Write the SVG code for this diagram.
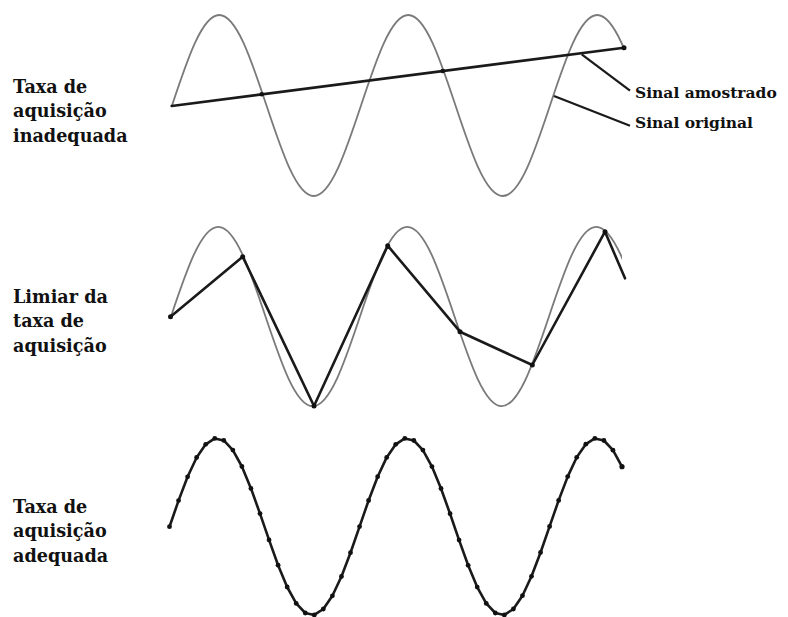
<svg xmlns="http://www.w3.org/2000/svg" width="788" height="617" viewBox="0 0 788 617">
<style>
.lbl{font-family:"DejaVu Serif","Liberation Serif",serif;font-weight:bold;font-size:17.6px;fill:#111}
.sm{font-family:"DejaVu Serif","Liberation Serif",serif;font-weight:bold;font-size:15.5px;fill:#111}
.orig{fill:none;stroke:#7a7a7a;stroke-width:1.8}
.samp{fill:none;stroke:#1a1a1a;stroke-width:2.6;stroke-linejoin:round;stroke-linecap:round}
.lead{stroke:#1a1a1a;stroke-width:2.2;fill:none}
.dot{fill:#111}
</style>
<defs>
<path id="wave" d="M0,0 c15.41,-46.36 30.15,-90.5 47.25,-90.5 c17.1,0 31.84,44.14 47.25,90.5 c15.41,46.36 30.15,90.5 47.25,90.5 c17.1,0 31.84,-44.14 47.25,-90.5 c15.41,-46.36 30.15,-90.5 47.25,-90.5 c17.1,0 31.84,44.14 47.25,90.5 c15.41,46.36 30.15,90.5 47.25,90.5 c17.1,0 31.84,-44.14 47.25,-90.5 c15.41,-46.36 30.15,-90.5 47.25,-90.5 c17.1,0 31.84,44.14 47.25,90.5"/>
<clipPath id="c1"><rect x="150" y="0" width="474" height="210"/></clipPath>
<clipPath id="c2"><rect x="150" y="210" width="472" height="210"/></clipPath>
</defs>
<rect width="788" height="617" fill="#fff"/>

<g id="labels-top">
<text class="lbl" x="13" y="93">Taxa de</text>
<text class="lbl" x="13" y="117">aquisição</text>
<text class="lbl" x="13" y="142">inadequada</text>
</g>
<g id="labels-mid">
<text class="lbl" x="13" y="303">Limiar da</text>
<text class="lbl" x="13" y="327">taxa de</text>
<text class="lbl" x="13" y="352">aquisição</text>
</g>
<g id="labels-bot">
<text class="lbl" x="13" y="513">Taxa de</text>
<text class="lbl" x="13" y="537">aquisição</text>
<text class="lbl" x="13" y="562">adequada</text>
</g>

<g id="wave-top">
<g clip-path="url(#c1)"><use href="#wave" class="orig" transform="translate(172,105.5)"/></g>
<polyline class="samp" points="171.7,106 624,47.7"/>
<circle class="dot" cx="261.7" cy="94.3" r="2.3"/>
<circle class="dot" cx="442.7" cy="71" r="2.3"/>
<circle class="dot" cx="624" cy="47.7" r="2.5"/>
</g>

<g id="wave-mid">
<g clip-path="url(#c2)"><use href="#wave" class="orig" transform="translate(171,316.5) scale(1,0.99)"/></g>
<polyline class="samp" points="170.5,316.7 242.7,256.7 314,406 387.7,245.7 460,331.7 532.3,365 605,231.7 625,278.3"/>
<circle class="dot" cx="170.5" cy="316.7" r="2.5"/>
<circle class="dot" cx="242.7" cy="256.7" r="2.5"/>
<circle class="dot" cx="314" cy="406" r="2.5"/>
<circle class="dot" cx="387.7" cy="245.7" r="2.5"/>
<circle class="dot" cx="460" cy="331.7" r="2.5"/>
<circle class="dot" cx="532.3" cy="365" r="2.5"/>
<circle class="dot" cx="605" cy="231.7" r="2.5"/>
</g>

<g id="wave-bot">
<polyline class="samp" points="169.5,526.7 178.55,500.6 187.6,476.8 196.65,457.5 205.7,444.3 214.75,438.4 223.8,440.4 232.85,450.1 241.9,466.5 250.95,488.4 260,513.6 269.05,539.9 278.1,565.2 287.15,587 296.2,603.4 305.25,613 314.3,614.9 323.35,609 332.4,595.8 341.45,576.5 350.5,552.7 359.55,526.6 368.6,500.5 377.65,476.7 386.7,457.4 395.75,444.3 404.8,438.4 413.85,440.5 422.9,450.1 431.95,466.6 441,488.5 450.05,513.7 459.1,540.1 468.15,565.3 477.2,587.1 486.25,603.4 495.3,613 504.35,614.9 513.4,609 522.45,595.7 531.5,576.3 540.55,552.5 549.6,526.4 558.65,500.4 567.7,476.6 576.75,457.3 585.8,444.2 594.85,438.4 603.9,440.5 612.95,450.2 622,466.7"/>
<g class="dot">
<circle cx="169.5" cy="526.7" r="2.4"/><circle cx="178.55" cy="500.6" r="2.4"/><circle cx="187.6" cy="476.8" r="2.4"/><circle cx="196.65" cy="457.5" r="2.4"/><circle cx="205.7" cy="444.3" r="2.4"/><circle cx="214.75" cy="438.4" r="2.4"/><circle cx="223.8" cy="440.4" r="2.4"/><circle cx="232.85" cy="450.1" r="2.4"/><circle cx="241.9" cy="466.5" r="2.4"/><circle cx="250.95" cy="488.4" r="2.4"/><circle cx="260" cy="513.6" r="2.4"/><circle cx="269.05" cy="539.9" r="2.4"/><circle cx="278.1" cy="565.2" r="2.4"/><circle cx="287.15" cy="587" r="2.4"/><circle cx="296.2" cy="603.4" r="2.4"/><circle cx="305.25" cy="613" r="2.4"/><circle cx="314.3" cy="614.9" r="2.4"/><circle cx="323.35" cy="609" r="2.4"/><circle cx="332.4" cy="595.8" r="2.4"/><circle cx="341.45" cy="576.5" r="2.4"/><circle cx="350.5" cy="552.7" r="2.4"/><circle cx="359.55" cy="526.6" r="2.4"/><circle cx="368.6" cy="500.5" r="2.4"/><circle cx="377.65" cy="476.7" r="2.4"/><circle cx="386.7" cy="457.4" r="2.4"/><circle cx="395.75" cy="444.3" r="2.4"/><circle cx="404.8" cy="438.4" r="2.4"/><circle cx="413.85" cy="440.5" r="2.4"/><circle cx="422.9" cy="450.1" r="2.4"/><circle cx="431.95" cy="466.6" r="2.4"/><circle cx="441" cy="488.5" r="2.4"/><circle cx="450.05" cy="513.7" r="2.4"/><circle cx="459.1" cy="540.1" r="2.4"/><circle cx="468.15" cy="565.3" r="2.4"/><circle cx="477.2" cy="587.1" r="2.4"/><circle cx="486.25" cy="603.4" r="2.4"/><circle cx="495.3" cy="613" r="2.4"/><circle cx="504.35" cy="614.9" r="2.4"/><circle cx="513.4" cy="609" r="2.4"/><circle cx="522.45" cy="595.7" r="2.4"/><circle cx="531.5" cy="576.3" r="2.4"/><circle cx="540.55" cy="552.5" r="2.4"/><circle cx="549.6" cy="526.4" r="2.4"/><circle cx="558.65" cy="500.4" r="2.4"/><circle cx="567.7" cy="476.6" r="2.4"/><circle cx="576.75" cy="457.3" r="2.4"/><circle cx="585.8" cy="444.2" r="2.4"/><circle cx="594.85" cy="438.4" r="2.4"/><circle cx="603.9" cy="440.5" r="2.4"/><circle cx="612.95" cy="450.2" r="2.4"/><circle cx="622" cy="466.7" r="2.6"/>
</g>
</g>

<g id="legend-sampled">
<text class="sm" x="635" y="98">Sinal amostrado</text>
</g>
<g id="legend-original">
<text class="sm" x="635" y="128">Sinal original</text>
</g>

<g id="connectors">
<line class="lead" x1="581.7" y1="54.3" x2="630" y2="90.7"/>
<line class="lead" x1="554" y1="96" x2="630" y2="125.7"/>
</g>
</svg>
